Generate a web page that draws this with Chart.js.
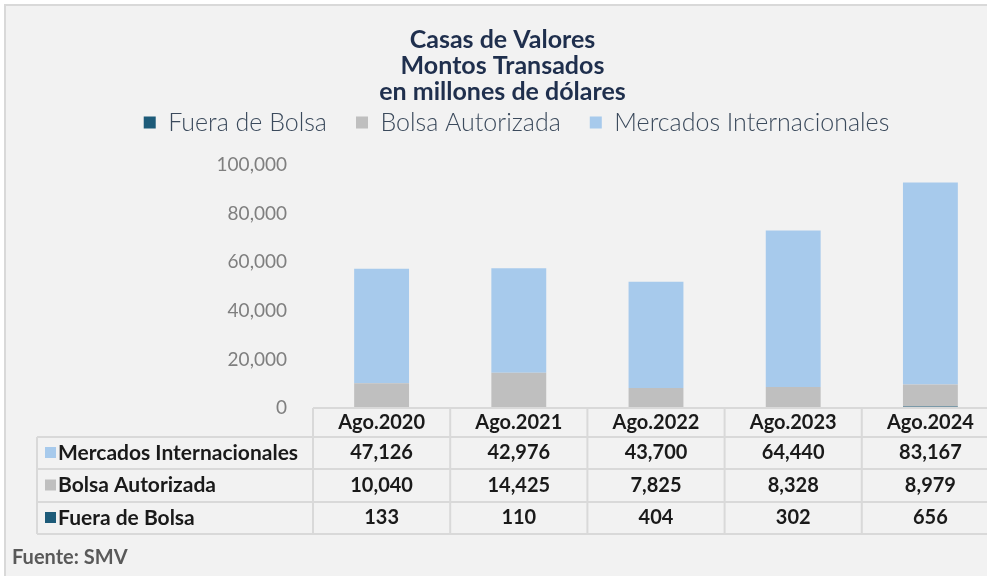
<!DOCTYPE html>
<html>
<head>
<meta charset="utf-8">
<script src="https://cdn.jsdelivr.net/npm/chart.js@4"></script>
<style>
	body { margin: 0; background: #fff; overflow: hidden; }
	#frame {
		position: absolute; left: 4px; top: 4px; width: 1000px; height: 580px;
		background: #f2f2f2; border-top: 2px solid #d9d9d9; border-left: 2px solid #d9d9d9;
	}
	#chart { position: absolute; left: 0; top: 0; }
</style>
</head>
<body>
<div id="frame"></div>
<canvas id="chart" width="1000" height="576"></canvas>
<script>
const periods = ['Ago.2020', 'Ago.2021', 'Ago.2022', 'Ago.2023', 'Ago.2024'];
const fueraDeBolsa = [133, 110, 404, 302, 656];
const bolsaAutorizada = [10040, 14425, 7825, 8328, 8979];
const mercadosInternacionales = [47126, 42976, 43700, 64440, 83167];
const yTicks = [0, 20000, 40000, 60000, 80000, 100000];

const FONT = 'Lato, "DejaVu Sans", sans-serif';
const colors = {
	fuera: '#1d5b79',
	bolsa: '#bfbfbf',
	mercados: '#a7caec'
};

const fmt = (v) => v.toLocaleString('en-US');

// nudge title / legend to where they sit in the original
const nudge = {
	id: 'nudge',
	afterLayout(chart) {
		chart.titleBlock.left += 3;
		chart.titleBlock.right += 3;
		chart.legend.left += 17;
		chart.legend.right += 17;
		chart.legend.top -= 20;
		chart.legend.bottom -= 20;
	}
};

// data table drawn under the plot, columns aligned with the x scale
const tablePlugin = {
	id: 'dataTable',
	afterDraw(chart) {
		const ctx = chart.ctx;
		const x = chart.scales.x;
		const top = chart.chartArea.bottom;
		const colW = x.width / periods.length;
		const left = x.left;
		const right = x.right;
		const tableLeft = 37;
		const rowH = [29, 32, 33, 32];
		const rowsY = [top];
		rowH.forEach((h) => rowsY.push(rowsY[rowsY.length - 1] + h));

		ctx.save();
		ctx.strokeStyle = '#d9d9d9';
		ctx.lineWidth = 2;
		ctx.beginPath();
		ctx.moveTo(left, rowsY[0]);
		ctx.lineTo(right, rowsY[0]);
		for (let i = 1; i < rowsY.length; i++) {
			ctx.moveTo(tableLeft, rowsY[i]);
			ctx.lineTo(right, rowsY[i]);
		}
		ctx.moveTo(tableLeft, rowsY[1]);
		ctx.lineTo(tableLeft, rowsY[4]);
		for (let i = 0; i <= periods.length; i++) {
			const px = left + i * colW;
			ctx.moveTo(px, rowsY[0]);
			ctx.lineTo(px, rowsY[4]);
		}
		ctx.stroke();

		ctx.fillStyle = '#1a1a1a';
		ctx.font = `bold 20px ${FONT}`;
		ctx.textAlign = 'center';
		ctx.textBaseline = 'middle';
		periods.forEach((p, i) => {
			ctx.fillText(p, x.getPixelForValue(i), (rowsY[0] + rowsY[1]) / 2);
		});

		const rows = [
			{ name: 'Mercados Internacionales', color: colors.mercados, data: mercadosInternacionales },
			{ name: 'Bolsa Autorizada', color: colors.bolsa, data: bolsaAutorizada },
			{ name: 'Fuera de Bolsa', color: colors.fuera, data: fueraDeBolsa }
		];
		rows.forEach((r, ri) => {
			const cy = (rowsY[ri + 1] + rowsY[ri + 2]) / 2;
			ctx.fillStyle = r.color;
			ctx.fillRect(45, cy - 6, 11, 11);
			ctx.fillStyle = '#1a1a1a';
			ctx.textAlign = 'left';
			ctx.font = `bold 21px ${FONT}`;
			ctx.fillText(r.name, 58, cy);
			ctx.textAlign = 'center';
			ctx.font = `bold 20px ${FONT}`;
			r.data.forEach((v, i) => {
				ctx.fillText(fmt(v), x.getPixelForValue(i), cy);
			});
		});

		ctx.fillStyle = '#595959';
		ctx.textAlign = 'left';
		ctx.font = `bold 20px ${FONT}`;
		ctx.fillText('Fuente: SMV', 12, 558);
		ctx.restore();
	}
};

new Chart(document.getElementById('chart'), {
	type: 'bar',
	data: {
		labels: periods,
		datasets: [
			{ label: 'Fuera de Bolsa', data: fueraDeBolsa, backgroundColor: colors.fuera },
			{ label: 'Bolsa Autorizada', data: bolsaAutorizada, backgroundColor: colors.bolsa },
			{ label: 'Mercados Internacionales', data: mercadosInternacionales, backgroundColor: colors.mercados }
		]
	},
	options: {
		responsive: false,
		animation: false,
		layout: { padding: { left: 0, right: 1, top: 0, bottom: 168 } },
		datasets: { bar: { categoryPercentage: 1, barPercentage: 0.4 } },
		scales: {
			x: { stacked: true, display: false },
			y: {
				stacked: true,
				min: 0,
				max: 100000,
				afterBuildTicks: (scale) => {
					scale.ticks = yTicks.map((v) => ({ value: v }));
				},
				afterFit: (scale) => {
					scale.width = 313;
				},
				grid: { display: false },
				border: { display: false },
				ticks: {
					padding: 18,
					color: '#7f7f7f',
					font: { family: FONT, size: 19 },
					callback: (v) => fmt(v)
				}
			}
		},
		plugins: {
			title: {
				display: true,
				text: ['Casas de Valores', 'Montos Transados', 'en millones de dólares'],
				color: '#1f2f4d',
				font: { family: FONT, size: 25, weight: 'bold', lineHeight: 1.04 },
				padding: { top: 27, bottom: -4 }
			},
			legend: {
				position: 'top',
				labels: {
					boxWidth: 12,
					boxHeight: 12,
					padding: 29,
					color: '#3b4a5c',
					font: { family: FONT, size: 25, weight: '300' }
				}
			},
			tooltip: { enabled: false }
		}
	},
	plugins: [nudge, tablePlugin]
});
</script>
</body>
</html>
